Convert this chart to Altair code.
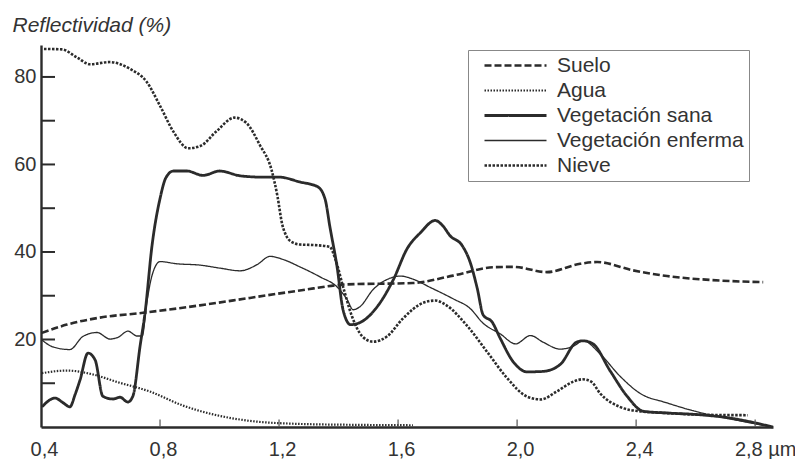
import altair as alt
import pandas as pd

# ---- data ----
series_order = ["Suelo", "Agua", "Vegetación sana", "Vegetación enferma", "Nieve"]

suelo_x = [0.403, 0.487, 0.598, 0.743, 0.934, 1.102, 1.27, 1.429, 1.65, 1.785, 1.919, 1.987, 2.10, 2.212, 2.269, 2.39, 2.504, 2.65, 2.827]
suelo_y = [21.5, 23.4, 25.0, 26.1, 27.8, 29.5, 31.2, 32.6, 32.9, 34.6, 36.5, 36.6, 35.4, 37.3, 37.7, 35.8, 34.5, 33.6, 33.1]

agua_x = [0.403, 0.487, 0.575, 0.655, 0.766, 0.877, 0.99, 1.102, 1.27, 1.45, 1.65]
agua_y = [12.3, 12.9, 12.0, 10.3, 8.1, 4.9, 2.7, 1.4, 0.7, 0.5, 0.4]

sana_x = [0.403, 0.447, 0.475, 0.497, 0.515, 0.531, 0.558, 0.582, 0.608, 0.642, 0.666, 0.692, 0.709, 0.733, 0.75, 0.773, 0.80, 0.82, 0.845,
          0.89, 0.945, 1.0, 1.07, 1.146, 1.20, 1.27, 1.33, 1.355, 1.371, 1.395, 1.415, 1.44, 1.466, 1.53, 1.585, 1.63, 1.675, 1.725, 1.75,
          1.775, 1.815, 1.842, 1.866, 1.886, 1.916, 1.943, 1.987, 2.034, 2.087, 2.145, 2.20, 2.222, 2.255, 2.313, 2.37, 2.424, 2.504, 2.615, 2.70, 2.86]
sana_y = [4.6, 6.6, 5.5, 4.6, 7.5, 10.7, 16.9, 15.3, 7.0, 6.4, 6.8, 5.7, 7.1, 18.5, 26.3, 41.4, 52.2, 57.0, 58.5,
          58.5, 57.5, 58.5, 57.4, 57.1, 57.1, 56.0, 54.9, 52.0, 45.7, 36.6, 26.8, 23.4, 23.7, 27.5, 33.8, 40.7, 44.4, 47.2, 46.0,
          43.7, 41.5, 37.7, 31.7, 25.6, 24.0, 20.3, 14.9, 12.6, 12.7, 14.3, 19.4, 19.7, 19.0, 12.8, 7.0, 3.6, 3.2, 2.8, 2.2, 0.0]

enferma_x = [0.403, 0.44, 0.497, 0.541, 0.588, 0.632, 0.659, 0.692, 0.723, 0.74, 0.756, 0.773, 0.80, 0.857, 0.934, 1.002, 1.069, 1.126,
             1.17, 1.213, 1.27, 1.338, 1.395, 1.429, 1.449, 1.472, 1.516, 1.573, 1.607, 1.65, 1.708, 1.785, 1.842, 1.886, 1.943, 1.995,
             2.045, 2.087, 2.145, 2.19, 2.222, 2.279, 2.346, 2.413, 2.504, 2.615, 2.726, 2.86]
enferma_y = [19.9, 18.3, 17.7, 20.7, 21.6, 20.1, 20.5, 21.9, 20.8, 20.8, 28.6, 34.6, 37.8, 37.3, 37.0, 36.3, 35.7, 37.1,
             39.0, 38.3, 36.6, 34.3, 32.0, 29.1, 26.8, 27.5, 31.4, 34.0, 34.5, 33.8, 31.9, 29.3, 27.1, 23.7, 21.3, 19.0,
             20.9, 19.4, 17.8, 18.5, 19.7, 16.7, 11.6, 7.7, 5.5, 3.3, 1.7, 0.0]

nieve_x = [0.41, 0.47, 0.52, 0.565, 0.63, 0.70, 0.755, 0.80, 0.845, 0.895, 0.935, 0.99, 1.05, 1.09, 1.135, 1.175, 1.195, 1.21, 1.225,
           1.245, 1.27, 1.31, 1.37, 1.39, 1.415, 1.445, 1.48, 1.515, 1.565, 1.615, 1.685, 1.725, 1.765, 1.83, 1.90, 1.965, 2.035,
           2.08, 2.135, 2.19, 2.22, 2.25, 2.28, 2.345, 2.41, 2.50, 2.615, 2.775]
nieve_y = [86.4, 86.3, 84.5, 82.9, 83.4, 81.8, 78.9, 73.4, 67.5, 63.7, 64.2, 67.6, 70.7, 69.5, 64.5, 58.7, 52.6, 46.5, 43.6,
           42.2, 41.7, 41.6, 41.2, 38.2, 32.1, 25.3, 20.7, 19.5, 20.8, 24.7, 28.4, 28.9, 27.7, 23.3, 17.1, 11.3, 6.9,
           6.3, 8.2, 10.4, 10.9, 10.3, 7.6, 4.6, 3.6, 3.2, 2.8, 2.7]

x_ticks = [0.4, 0.8, 1.2, 1.6, 2.0, 2.4, 2.8]
x_labels = ["0,4", "0,8", "1,2", "1,6", "2,0", "2,4", "2,8 µm"]
y_labeled = [20, 40, 60, 80]
y_minor = [10, 20, 30, 40, 50, 60, 70, 80]

# ---- styles ----
INK = "#2b2b2b"
TXT = "#333333"
FONT = "Liberation Sans"
dash_range = [[7, 3], [1.5, 1.5], [1, 0], [1, 0], [2.5, 1.5]]
width_of = {"Suelo": 2.6, "Agua": 2.2, "Vegetación sana": 2.8, "Vegetación enferma": 1.3, "Nieve": 2.6}

rows = []
for name, xs, ys in [("Suelo", suelo_x, suelo_y), ("Agua", agua_x, agua_y),
                     ("Vegetación sana", sana_x, sana_y), ("Vegetación enferma", enferma_x, enferma_y),
                     ("Nieve", nieve_x, nieve_y)]:
    for a, b in zip(xs, ys):
        rows.append({"serie": name, "x": a, "y": b, "w": width_of[name]})
df = pd.DataFrame(rows)

W, H = 732, 382
sc_x = alt.Scale(domain=[0.4, 2.86], nice=False, zero=False)
sc_y = alt.Scale(domain=[0, 87.3], nice=False, zero=False)

label_expr = " : ".join(
    [f"datum.value > {v - 0.05:.2f} && datum.value < {v + 0.05:.2f} ? '{l}'" for v, l in zip(x_ticks, x_labels)]
) + " : ''"

ax_x = alt.Axis(values=x_ticks, labelExpr=label_expr, title=None, ticks=False, grid=False,
                domainColor=INK, domainWidth=2.4, labelFont=FONT, labelFontSize=20, labelColor=TXT,
                labelPadding=12, labelFlush=False,
                labelOffset={"condition": {"test": "datum.value > 2.7", "value": 10}, "value": 3})
ax_y = alt.Axis(values=y_labeled, title="Reflectividad (%)", ticks=False, grid=False,
                domainColor=INK, domainWidth=2.4, labelFont=FONT, labelFontSize=20, labelColor=TXT,
                labelPadding=5, labelFlush=False,
                titleAngle=0, titleAlign="left", titleBaseline="alphabetic", titleX=-29, titleY=-14,
                titleFont=FONT, titleFontSize=21, titleFontStyle="italic", titleFontWeight="normal",
                titleColor=TXT)

sw_expr = ("datum.value == 'Vegetación enferma' ? 1.3 : "
           "(datum.value == 'Vegetación sana' ? 2.8 : (datum.value == 'Agua' ? 2 : 2.4))")

lines = alt.Chart(df).mark_line(interpolate="monotone", color=INK).encode(
    x=alt.X("x:Q", scale=sc_x, axis=ax_x),
    y=alt.Y("y:Q", scale=sc_y, axis=ax_y),
    strokeDash=alt.StrokeDash(
        "serie:N",
        scale=alt.Scale(domain=series_order, range=dash_range),
        legend=alt.Legend(title=None, orient="none", legendX=427, legendY=5,
                          symbolType="M0.1,0H6.3", symbolSize=400, symbolStrokeColor=INK,
                          symbolStrokeWidth=alt.expr(sw_expr),
                          labelFont=FONT, labelFontSize=21, labelColor=TXT, labelOffset=63,
                          labelLimit=400, rowPadding=3, padding=5,
                          strokeColor="#888888", fillColor="white"),
    ),
    strokeWidth=alt.StrokeWidth("w:Q", scale=None),
)

ytick_df = pd.DataFrame({"y": y_minor})
yticks = alt.Chart(ytick_df).mark_tick(color=INK, opacity=1, thickness=2, size=13, orient="horizontal").encode(
    y=alt.Y("y:Q", scale=sc_y, axis=ax_y),
    x=alt.value(7.5),
)

xtick_df = pd.DataFrame({"x": x_ticks[1:]})
xticks = alt.Chart(xtick_df).mark_tick(color="#555555", opacity=1, thickness=1.2, size=7, orient="vertical").encode(
    x=alt.X("x:Q", scale=sc_x, axis=ax_x),
    y=alt.value(H - 4),
)

chart = alt.layer(lines, yticks, xticks).properties(
    width=W, height=H,
    autosize=alt.AutoSizeParams(type="none"),
    padding={"left": 33, "top": 37, "right": 22, "bottom": 32},
    background="white",
).configure_view(stroke=None)

chart.save("out.html", embed_options={"renderer": "svg", "actions": False})
